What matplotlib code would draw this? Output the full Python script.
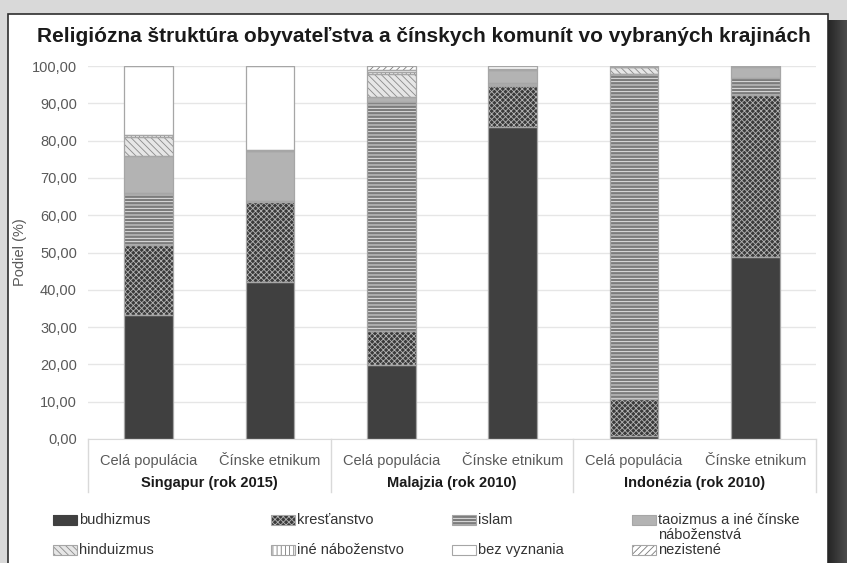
import numpy as np
import matplotlib.pyplot as plt
from matplotlib.patches import Rectangle
from matplotlib.lines import Line2D
import matplotlib.transforms as mtransforms

plt.rcParams['font.family'] = ['Liberation Sans', 'DejaVu Sans']
plt.rcParams['hatch.linewidth'] = 0.6

# data (%), one value per bar
bar_labels = ['Celá populácia', 'Čínske etnikum'] * 3
groups = ['Singapur (rok 2015)', 'Malajzia (rok 2010)', 'Indonézia (rok 2010)']

budhizmus = [33.2, 42.0, 19.8, 83.6, 0.7, 48.9]
krestanstvo = [18.8, 21.6, 9.2, 11.1, 9.9, 43.3]
islam = [14.0, 0.1, 61.3, 0.7, 87.2, 4.7]
taoizmus = [10.0, 13.4, 1.3, 3.4, 0.1, 2.9]
hinduizmus = [5.0, 0.0, 6.3, 0.2, 1.7, 0.1]
ine = [0.6, 0.3, 0.4, 0.1, 0.1, 0.1]
bez_vyznania = [18.4, 22.6, 0.7, 0.8, 0.0, 0.0]
nezistene = [0.0, 0.0, 1.0, 0.1, 0.3, 0.0]

series = [budhizmus, krestanstvo, islam, taoizmus, hinduizmus, ine, bez_vyznania, nezistene]
names = ['budhizmus', 'kresťanstvo', 'islam', 'taoizmus a iné čínske\nnáboženstvá',
         'hinduizmus', 'iné náboženstvo', 'bez vyznania', 'nezistené']

# face, hatch, hatch colour
styles = [
    ('#404040', None, None),
    ('#3a3a3a', 'xxxxxx', '#b4b4b4'),
    ('#7c7c7c', '-----', '#f0f0f0'),
    ('#b3b3b3', None, None),
    ('#e6e6e6', '\\\\\\\\\\', '#8a8a8a'),
    ('#ffffff', '||||', '#7a7a7a'),
    ('#ffffff', None, None),
    ('#ffffff', '/////', '#7a7a7a'),
]
edge = '#a6a6a6'

W, H = 847, 563
fig = plt.figure(figsize=(W / 100, H / 100), dpi=100, facecolor='#d9d9d9')

# card + shadow
fig.add_artist(Rectangle((8 / W, -0.01), (828 - 8) / W, 1.01 - 14 / H,
                         transform=fig.transFigure, facecolor='white',
                         edgecolor='#2e2e2e', lw=1.2, zorder=0))
sh = fig.add_axes([828 / W, 0, 19 / W, 1 - 20 / H])
grad = np.linspace(0.15, 0.3, 50).reshape(1, -1)
sh.imshow(grad, aspect='auto', cmap='gray', vmin=0, vmax=1)
sh.axis('off')

ax = fig.add_axes([88 / W, 1 - 439 / H, (816 - 88) / W, (439 - 66) / H])
ax.set_facecolor('none')

x = np.arange(len(bar_labels))
width = 0.4
bottom = np.zeros(len(x))
for vals, (fc, hatch, hc) in zip(series, styles):
    vals = np.array(vals)
    ax.bar(x, vals, width, bottom=bottom, color=fc, edgecolor=hc if hatch else fc,
           hatch=hatch, linewidth=0, zorder=2)
    ax.bar(x, vals, width, bottom=bottom, fill=False, edgecolor=edge, linewidth=0.9, zorder=3)
    bottom += vals

ax.set_xlim(-0.5, len(x) - 0.5)
ax.set_ylim(0, 100)
ax.set_yticks(np.arange(0, 101, 10))
ax.set_yticklabels([f'{v:.2f}'.replace('.', ',') for v in np.arange(0, 101, 10)])
ax.grid(axis='y', color='#e6e6e6', lw=1, zorder=0)
ax.set_xticks(x)
ax.set_xticklabels(bar_labels)
ax.tick_params(axis='both', length=0, labelsize=10.5, labelcolor='#595959')
ax.tick_params(axis='x', pad=11)
ax.tick_params(axis='y', pad=8)
for s in ['top', 'right', 'left']:
    ax.spines[s].set_visible(False)
ax.spines['bottom'].set_color('#d9d9d9')
ax.set_ylabel('Podiel (%)', fontsize=10.5, color='#595959')
ax.yaxis.set_label_coords(-0.084, 0.5)

trans = mtransforms.blended_transform_factory(ax.transData, ax.transAxes)
for i, g in enumerate(groups):
    ax.text(2 * i + 0.5, -0.118, g, transform=trans, ha='center', va='center',
            fontsize=10.5, fontweight='bold', color='#1a1a1a')
for b in [-0.5, 1.5, 3.5, 5.5]:
    ax.add_line(Line2D([b, b], [0, -0.142], transform=trans, color='#d9d9d9',
                       lw=1, clip_on=False))

fig.text(424 / W, 1 - 37 / H, 'Religiózna štruktúra obyvateľstva a čínskych komunít vo vybraných krajinách',
         ha='center', va='center', fontsize=15, fontweight='bold', color='#1a1a1a')

# legend, 4 columns x 2 rows
col_x = [53, 271, 452, 632]
row_y = [520, 550]
for k in range(len(names)):
    col, row = k % 4, k // 4
    fc, hatch, hc = styles[k]
    px, py = col_x[col], row_y[row]
    fig.add_artist(Rectangle((px / W, 1 - (py + 5) / H), 24 / W, 10 / H,
                             transform=fig.transFigure, facecolor=fc,
                             edgecolor=hc if hatch else fc, hatch=hatch, lw=0))
    fig.add_artist(Rectangle((px / W, 1 - (py + 5) / H), 24 / W, 10 / H,
                             transform=fig.transFigure, fill=False,
                             edgecolor=edge if fc != '#404040' else '#404040', lw=0.8))
    fig.text((px + 26) / W, 1 - (py - 7) / H, names[k], ha='left', va='top',
             fontsize=10.5, color='#333333', linespacing=1.05)

fig.savefig('out.png', dpi=100, facecolor=fig.get_facecolor())
